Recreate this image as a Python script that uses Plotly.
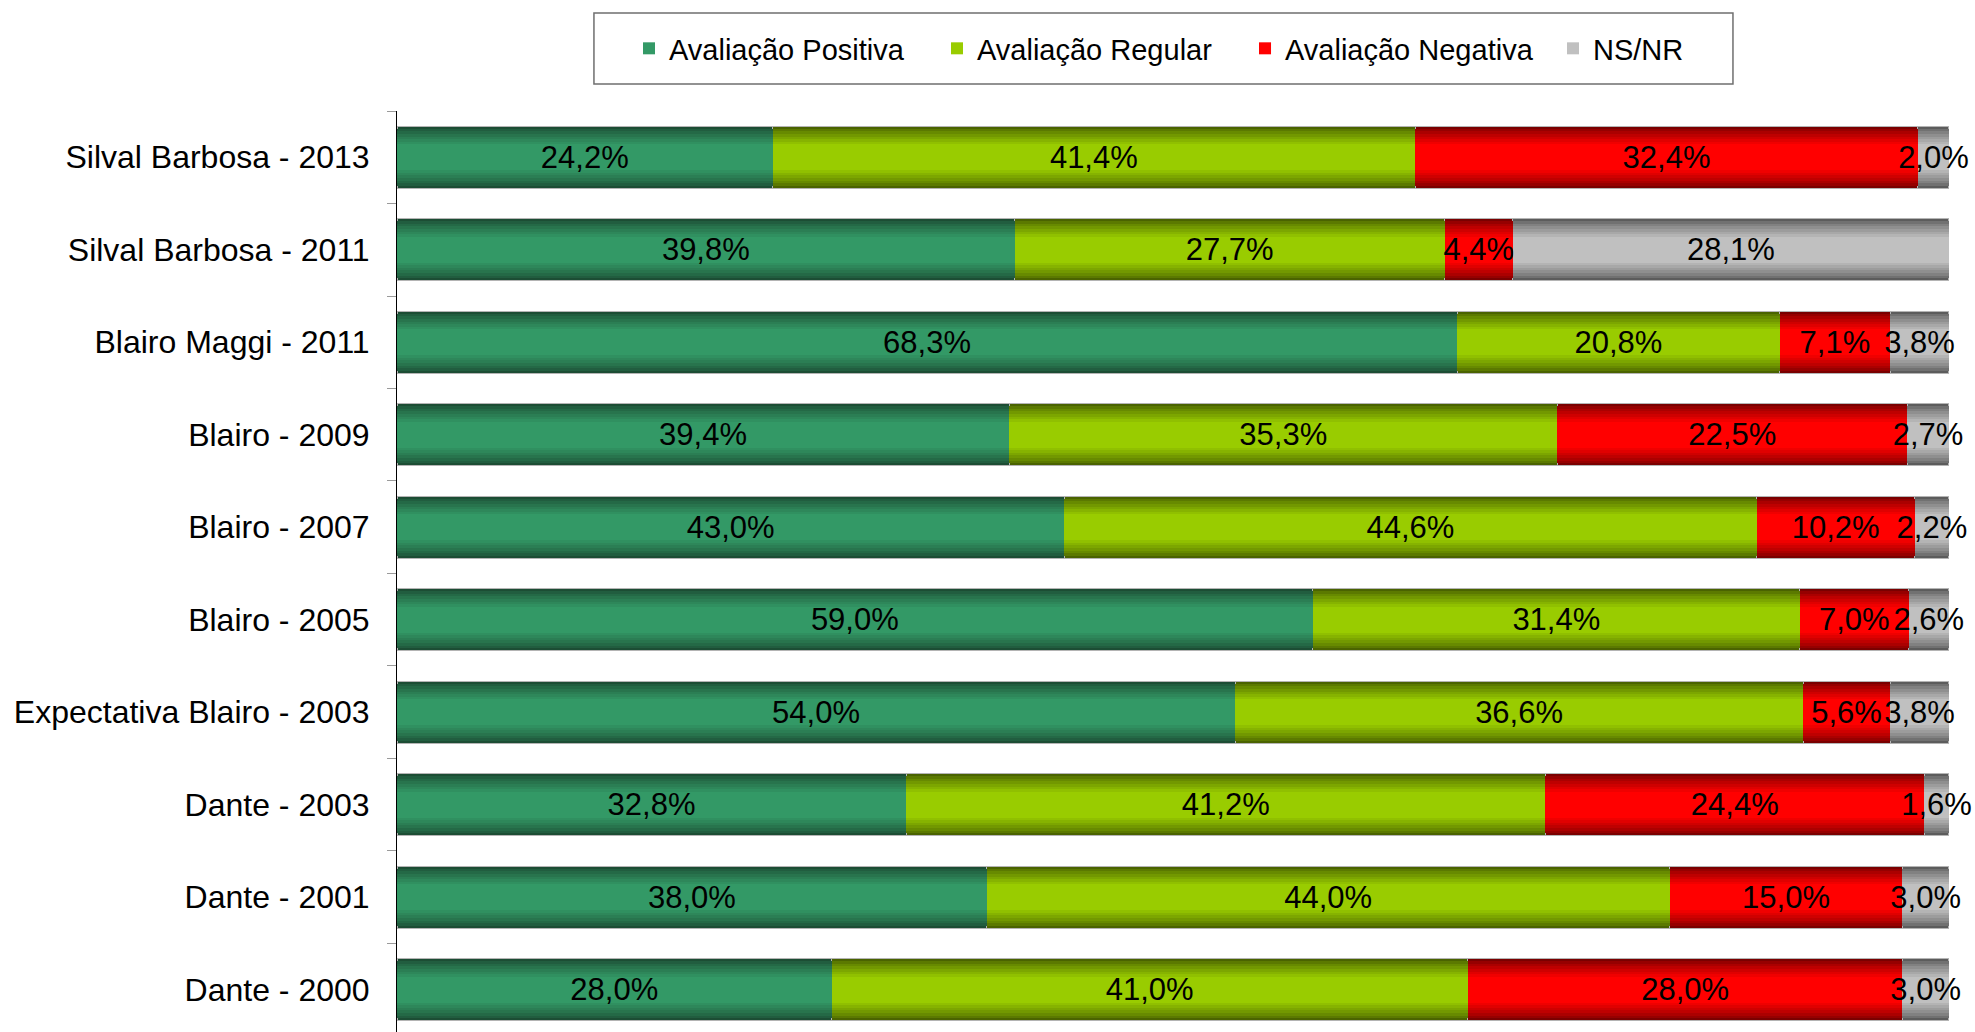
import plotly.graph_objects as go

# ---------------- data ----------------
categories = [
    "Silval Barbosa - 2013",
    "Silval Barbosa - 2011",
    "Blairo Maggi - 2011",
    "Blairo - 2009",
    "Blairo - 2007",
    "Blairo - 2005",
    "Expectativa Blairo - 2003",
    "Dante - 2003",
    "Dante - 2001",
    "Dante - 2000",
]
positiva = [24.2, 39.8, 68.3, 39.4, 43.0, 59.0, 54.0, 32.8, 38.0, 28.0]
regular = [41.4, 27.7, 20.8, 35.3, 44.6, 31.4, 36.6, 41.2, 44.0, 41.0]
negativa = [32.4, 4.4, 7.1, 22.5, 10.2, 7.0, 5.6, 24.4, 15.0, 28.0]
nsnr = [2.0, 28.1, 3.8, 2.7, 2.2, 2.6, 3.8, 1.6, 3.0, 3.0]
series_names = ["Avaliação Positiva", "Avaliação Regular", "Avaliação Negativa", "NS/NR"]
series_values = [positiva, regular, negativa, nsnr]

# ---------------- style ----------------
center_colors = ["#339966", "#99cc00", "#ff0000", "#c0c0c0"]
edge_colors = ["#1c4d34", "#4a6300", "#7a0000", "#5c5c5c"]
FONT = "Liberation Sans, Arial, sans-serif"
BAR_W = 0.67
N_LAYERS = 8
X_RANGE = [0, 100.001]


def hex2rgb(h):
    h = h.lstrip("#")
    return tuple(int(h[i:i + 2], 16) for i in (0, 2, 4))


def blend(c1, c2, t):
    a, b = hex2rgb(c1), hex2rgb(c2)
    return "rgb(%d,%d,%d)" % tuple(round(a[i] + (b[i] - a[i]) * t) for i in range(3))


def fmt(v):
    return ("%.1f%%" % v).replace(".", ",")


fig = go.Figure()

# gradient layers (each on its own overlaid x axis so each forms its own stack)
for k in range(N_LAYERS):
    axis = "x" if k == 0 else "x%d" % (k + 1)
    frac = 1 - 0.58 * k / (N_LAYERS - 1)
    t = (k / (N_LAYERS - 1)) ** 0.8
    for s in range(4):
        fig.add_trace(go.Bar(
            y=categories, x=series_values[s], orientation="h",
            xaxis=axis, yaxis="y",
            width=BAR_W * frac,
            name=series_names[s],
            legendgroup=series_names[s],
            showlegend=(k == N_LAYERS - 1),
            marker=dict(color=blend(edge_colors[s], center_colors[s], t),
                        line=dict(width=1 if k == 0 else 0, color="#b4b4b4")),
            hoverinfo="skip",
        ))

# text layer on top
text_axis = "x%d" % (N_LAYERS + 1)
for s in range(4):
    fig.add_trace(go.Bar(
        y=categories, x=series_values[s], orientation="h",
        xaxis=text_axis, yaxis="y",
        width=BAR_W,
        name=series_names[s],
        showlegend=False,
        marker=dict(color="rgba(0,0,0,0)", line=dict(width=0)),
        text=[fmt(v) for v in series_values[s]],
        textposition="inside",
        insidetextanchor="middle",
        textangle=0,
        constraintext="none",
        cliponaxis=False,
        textfont=dict(family=FONT, size=31, color="black"),
        hoverinfo="skip",
    ))

layout_axes = {}
layout_axes["xaxis"] = dict(range=X_RANGE, visible=False, showgrid=False, zeroline=False)
for k in range(2, N_LAYERS + 2):
    layout_axes["xaxis%d" % k] = dict(range=X_RANGE, visible=False, showgrid=False,
                                      zeroline=False, overlaying="x")

fig.update_layout(
    **layout_axes,
    width=1975, height=1032,
    margin=dict(l=397, r=26, t=111, b=0, pad=0),
    paper_bgcolor="white", plot_bgcolor="white",
    barmode="stack", barnorm="percent",
    font=dict(family=FONT, color="black"),
    yaxis=dict(
        type="category", categoryorder="array", categoryarray=categories,
        range=[9.457, -0.5],
        showline=True, linecolor="black", linewidth=1,
        ticks="outside", tickson="boundaries", ticklen=9, tickcolor="#9a9a9a", tickwidth=1,
        tickfont=dict(family=FONT, size=32, color="black"),
        ticklabelstandoff=20,
        showgrid=False, zeroline=False, automargin=False,
    ),
    legend=dict(
        orientation="h", x=0.1495, xanchor="left", y=1.0679, yanchor="middle",
        font=dict(family=FONT, size=29, color="black"),
        bgcolor="rgba(0,0,0,0)", borderwidth=0,
        entrywidth=263, traceorder="normal",
    ),
    shapes=[dict(type="rect", xref="paper", yref="paper",
                 x0=0.1269, x1=0.8608, y0=1.0293, y1=1.1064,
                 line=dict(color="#6f6f6f", width=1.5), fillcolor="rgba(0,0,0,0)")],
)

fig.write_html("out.html",
               config={"displayModeBar": False},
               post_script="document.body.style.margin='0px';document.body.style.overflow='hidden';")
